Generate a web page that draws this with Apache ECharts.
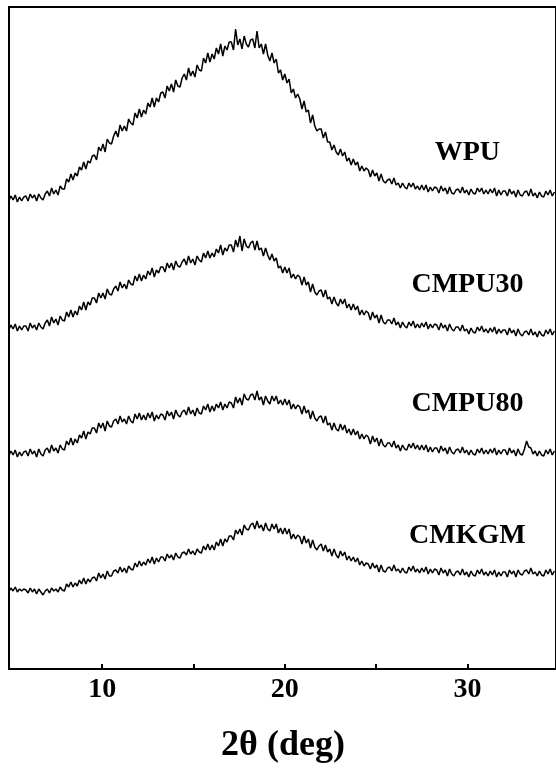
<!DOCTYPE html>
<html>
<head>
<meta charset="utf-8">
<script src="https://cdn.jsdelivr.net/npm/echarts@6/dist/echarts.min.js"></script>
<style>
html,body{margin:0;padding:0;background:#fff;}
#chart{width:556px;height:768px;}
</style>
</head>
<body>
<div id="chart"></div>
<script>
// 2θ sampling of the scans (deg)
const twoThetaStart = 4.89;
const twoThetaStep = 0.11715;
// Intensities (arbitrary units, curves already offset as in the figure)
const wpu = [
468,473,469,474,467,472,468,472, 473,468,475,471,474,468,475,471,
469,475,478,473,481,475,479,474, 483,480,480,490,487,495,489,496,
493,502,499,507,500,508,506,513, 514,509,522,518,525,517,530,526,
525,533,538,532,544,538,543,538, 550,546,544,556,551,560,552,559,
555,566,562,571,562,571,567,576, 577,571,583,578,585,577,589,583,
582,591,595,589,601,593,598,592, 604,599,598,611,606,616,607,615,
610,621,615,625,613,623,619,627, 627,619,640,624,630,620,633,625,
622,629,630,621,638,621,625,615, 625,614,608,616,606,610,596,599,
589,595,586,590,576,580,571,575, 570,560,568,557,559,546,554,543,
538,540,540,531,537,527,527,519, 524,517,514,520,513,517,508,511,
504,510,504,507,498,503,498,501, 499,492,499,493,496,488,495,488,
486,489,490,485,491,484,486,481, 486,482,480,486,482,486,480,483,
479,484,479,484,477,482,478,482, 481,476,483,478,481,475,482,476,
475,479,480,476,482,476,479,474, 480,476,475,481,477,481,475,479,
475,480,476,481,473,479,474,478, 478,473,480,475,478,472,479,474,
473,477,478,473,480,473,476,471, 477,473,472,478,474,479,473,477];
const cmpu30 = [
339,344,340,345,338,343,339,343, 343,338,346,341,344,339,346,342,
340,346,349,343,352,346,350,344, 353,349,348,357,352,359,352,358,
354,363,359,367,359,367,364,371, 371,366,376,371,376,370,380,375,
374,380,383,378,387,381,385,380, 389,385,384,393,388,395,388,394,
390,398,394,401,392,399,396,402, 402,397,406,401,406,399,408,403,
402,407,410,404,413,406,410,404, 413,409,407,416,411,418,411,416,
412,420,416,424,414,421,418,424, 424,417,429,422,433,418,430,423,
421,426,428,419,428,419,421,413, 421,414,409,415,408,411,401,403,
396,402,396,401,391,395,390,394, 392,384,392,384,387,377,385,377,
374,378,379,372,379,370,372,365, 372,366,363,370,365,370,361,365,
359,365,359,363,354,359,354,358, 356,349,357,351,354,346,354,347,
345,349,349,345,351,344,347,341, 347,343,341,347,343,348,341,345,
341,346,342,347,340,345,341,345, 344,339,346,341,344,338,345,340,
338,342,342,338,344,338,340,335, 341,337,336,342,338,343,337,340,
336,341,337,342,335,340,336,339, 339,334,341,336,339,333,340,335,
333,337,338,334,340,334,337,332, 338,334,333,339,335,340,334,338];
const cmpu80 = [
213,218,214,219,212,217,213,217, 218,213,220,215,218,212,220,215,
213,219,221,216,224,218,221,216, 224,220,219,228,224,231,224,230,
226,234,231,238,230,237,235,241, 241,236,246,241,246,238,248,243,
242,248,250,245,253,247,250,245, 253,248,246,255,250,256,249,254,
249,256,251,257,248,254,250,255, 254,249,258,253,257,250,259,254,
252,257,259,254,262,255,259,253, 261,256,255,263,259,265,257,263,
258,265,261,267,259,265,261,267, 266,261,272,266,271,264,275,270,
269,274,275,269,278,269,272,264, 273,268,265,273,268,273,265,269,
264,270,264,269,260,265,260,264, 262,255,263,256,259,250,258,251,
248,252,253,246,253,244,246,239, 246,240,238,245,239,244,236,240,
234,240,234,238,230,235,230,234, 232,225,233,227,231,223,230,224,
222,226,226,222,228,221,224,218, 224,220,219,225,221,226,220,224,
219,224,219,224,217,222,217,221, 221,216,223,218,221,215,222,217,
215,219,220,216,222,216,219,214, 219,215,214,220,216,221,215,219,
215,220,216,221,214,219,215,219, 219,214,221,216,219,213,220,215,
214,220,228,222,221,215,218,213, 218,214,213,219,215,220,214,218];
const cmkgm = [
77,81,78,82,77,80,78,80, 79,76,81,77,80,75,80,77,
74,78,80,76,81,78,80,77, 82,79,78,85,82,87,82,86,
83,89,85,91,85,90,87,91, 92,88,96,91,95,90,98,93,
93,98,99,96,102,97,101,96, 103,100,99,106,102,108,103,107,
104,110,106,112,105,111,107,112, 112,108,115,111,114,109,116,112,
111,116,117,114,120,115,118,114, 120,117,116,123,119,125,119,124,
119,127,123,130,123,130,127,133, 133,129,139,135,140,134,144,140,
139,144,146,140,148,141,144,138, 146,140,138,145,140,145,136,141,
135,141,135,140,130,135,130,134, 132,125,133,126,130,121,129,122,
119,123,125,118,124,117,120,113, 120,114,111,118,113,117,109,113,
108,112,107,111,104,108,103,106, 105,100,106,101,104,97,104,98,
97,101,102,98,104,98,100,96, 101,97,96,102,98,103,97,100,
96,101,97,102,95,100,96,100, 99,94,101,96,99,93,100,95,
93,97,98,94,100,94,97,92, 98,94,93,99,95,100,94,97,
93,98,94,99,92,97,93,97, 97,92,99,95,98,92,99,95,
94,98,99,95,101,95,97,93, 98,94,93,99,95,100,94,98];
const seriesNames = ['WPU', 'CMPU30', 'CMPU80', 'CMKGM'];
const labelAt = [[30, 516], [30, 384], [30, 265], [30, 133]];
const xTickValues = [10, 15, 20, 25, 30];
const xLabelValues = [10, 20, 30];
const axisTitle = '2θ (deg)';

const serif = '"Liberation Serif", "Times New Roman", serif';
const allData = [wpu, cmpu30, cmpu80, cmkgm];

function toPairs(arr) {
  return arr.map((v, i) => [twoThetaStart + i * twoThetaStep, v]);
}

const chart = echarts.init(document.getElementById('chart'), null, {renderer: 'canvas'});
chart.setOption({
  animation: false,
  backgroundColor: '#fff',
  grid: {left: 9, top: 7, width: 548, height: 662, show: true, borderColor: '#000', borderWidth: 2, backgroundColor: 'transparent'},
  xAxis: {
    type: 'value', min: 4.9, max: 34.85,
    axisLine: {show: true, onZero: false, lineStyle: {color: '#000', width: 2}},
    axisTick: {show: true, inside: true, length: 5, customValues: xTickValues, lineStyle: {color: '#000', width: 2}},
    axisLabel: {show: true, customValues: xLabelValues, margin: 7, color: '#000', fontSize: 28, fontWeight: 'bold', fontFamily: serif},
    splitLine: {show: false}
  },
  yAxis: {
    type: 'value', min: 0, max: 662, show: false, splitLine: {show: false}
  },
  series: allData.map((d, k) => ({
    name: seriesNames[k],
    type: 'line',
    data: toPairs(d),
    symbol: 'none',
    showSymbol: false,
    lineStyle: {color: '#000', width: 1.5},
    silent: true
  }))
});

// curve labels (placed in data coordinates) and axis title
const g = labelAt.map((p, k) => {
  const px = chart.convertToPixel({gridIndex: 0}, p);
  return {type: 'text', x: px[0], y: px[1], style: {text: seriesNames[k], fill: '#000', font: 'bold 28px ' + serif, align: 'center', verticalAlign: 'middle'}};
});
g.push({type: 'text', x: 283, y: 746, style: {text: axisTitle, fill: '#000', font: 'bold 36px ' + serif, align: 'center', verticalAlign: 'middle'}});
chart.setOption({graphic: g});
</script>
</body>
</html>
